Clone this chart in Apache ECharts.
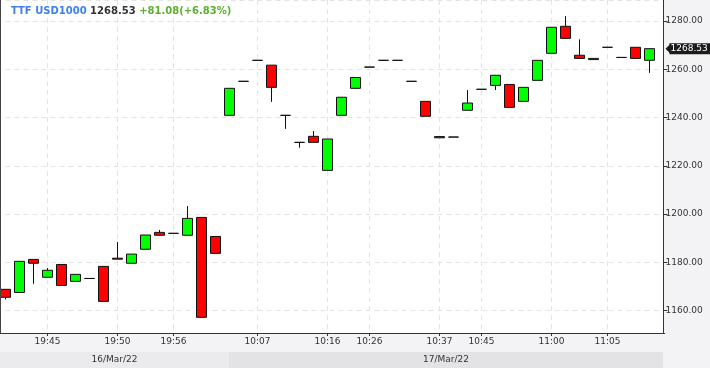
<!DOCTYPE html>
<html><head><meta charset="utf-8">
<script src="https://cdn.jsdelivr.net/npm/echarts@6/dist/echarts.min.js"></script>
<style>html,body{margin:0;padding:0;background:#f3f3f5;}#c{width:710px;height:368px;}</style>
</head><body><div id="c"></div>
<script>
// ---- data ----
const opens  = [1168.8,1167.5,1181.2,1173.8,1179.1,1172.1,1173.3,1178.3,1181.7,1179.6,1185.4,1192.4,1192.0,1191.2,1198.6,1190.7,
                1240.9,1255.0,1263.7,1261.7,1240.9,1229.7,1232.2,1218.1,1240.9,1252.1,1260.9,1263.7,1263.7,1255.0,1246.7,1232.1,
                1231.9,1243.0,1251.7,1253.3,1253.7,1246.7,1255.4,1266.6,1277.8,1265.8,1264.0,1269.1,1264.9,1269.1,1263.7];
const closes = [1165.5,1180.4,1179.6,1176.7,1170.4,1175.0,1173.3,1163.8,1181.3,1183.4,1191.3,1191.2,1192.0,1198.2,1157.2,1183.7,
                1252.1,1255.0,1263.7,1252.5,1240.9,1229.7,1229.7,1231.1,1248.4,1256.6,1260.9,1263.7,1263.7,1255.0,1240.5,1231.6,
                1231.9,1246.0,1251.7,1257.5,1244.2,1252.5,1263.7,1277.4,1272.8,1264.5,1264.5,1269.1,1264.9,1264.5,1268.53];
const lows   = [1164.6,1167.5,1171.1,1173.8,1170.4,1172.1,1173.3,1163.8,1181.3,1179.6,1185.4,1191.2,1192.0,1191.2,1157.2,1183.7,
                1240.9,1255.0,1263.7,1246.5,1235.3,1227.5,1229.7,1218.1,1240.9,1252.1,1260.9,1263.7,1263.7,1255.0,1240.5,1231.6,
                1231.9,1243.0,1251.7,1251.4,1244.2,1246.7,1255.4,1266.6,1272.8,1264.5,1264.0,1269.1,1264.9,1264.5,1258.5];
const highs  = [1168.8,1180.4,1181.2,1177.6,1179.1,1175.0,1173.3,1178.3,1188.4,1183.4,1191.3,1193.4,1192.0,1203.3,1198.6,1190.7,
                1252.1,1255.0,1263.7,1261.7,1240.9,1229.7,1234.4,1231.1,1248.4,1256.6,1260.9,1263.7,1263.7,1255.0,1246.7,1232.1,
                1231.9,1251.4,1251.7,1257.5,1253.7,1252.5,1263.7,1277.4,1282.0,1272.4,1264.5,1269.1,1264.9,1269.1,1268.53];
const tickIndex  = [3, 8, 12, 18, 23, 26, 31, 34, 39, 43];
const tickLabels = ['19:45','19:50','19:56','10:07','10:16','10:26','10:37','10:45','11:00','11:05'];
const dateLabels = ['16/Mar/22', '17/Mar/22'];
const dateStartIndex = [0, 16];
const instrument = 'TTF USD1000';
const lastPrice = 1268.53;
const changeAbs = 81.08;
const changePct = 6.83;

// ---- build ----
const slotCount = opens.length + 1;
const categories = [];
for (let i = 0; i < slotCount; i++) {
  const k = tickIndex.indexOf(i);
  categories.push(k >= 0 ? tickLabels[k] : ' ' + i);
}
const ohlc = opens.map((o, i) => [o, closes[i], lows[i], highs[i]]);
const isTick = (i) => tickIndex.indexOf(i) >= 0;
const FONT = 'DejaVu Sans';
const dash = { color: '#e4e4e4', width: 1, type: [5, 4] };
const tFont = { fontFamily: 'DejaVu Sans', fontWeight: 'bold', fontSize: 10 };

const chart = echarts.init(document.getElementById('c'), null, { renderer: 'canvas' });
chart.setOption({
  animation: false,
  backgroundColor: '#f3f3f5',
  title: {
    left: 11, top: 6, padding: 0,
    text: '{a|' + instrument + ' }{b|' + lastPrice.toFixed(2) + ' }{c|+' + changeAbs.toFixed(2) + '(+' + changePct.toFixed(2) + '%)}',
    textStyle: {
      rich: {
        a: Object.assign({ color: '#3f80ea' }, tFont),
        b: Object.assign({ color: '#333333' }, tFont),
        c: Object.assign({ color: '#5bb030' }, tFont)
      }
    }
  },
  grid: { left: 5.5, right: 46.5, top: 0, bottom: 35, containLabel: false },
  xAxis: {
    type: 'category', data: categories, boundaryGap: false,
    axisLine: { show: false },
    axisTick: { show: true, interval: (i) => isTick(i), length: 3, lineStyle: { color: '#333' } },
    axisLabel: { interval: (i) => isTick(i), color: '#333', fontSize: 9, fontFamily: FONT, margin: 4,
      formatter: (v) => v.trim().match(/^\d+$/) ? '' : v },
    splitLine: { show: true, interval: (i) => isTick(i), lineStyle: dash }
  },
  yAxis: {
    type: 'value', position: 'right', scale: true,
    min: 1150.7, max: 1288.7, splitNumber: 7,
    axisLine: { show: true, lineStyle: { color: '#333', width: 1 } },
    axisTick: { show: true, length: 4, lineStyle: { color: '#333' } },
    axisLabel: { color: '#333', fontSize: 9, fontFamily: FONT, margin: 2, showMinLabel: false, showMaxLabel: false,
      formatter: (v) => v.toFixed(2) },
    splitLine: { show: true, lineStyle: dash }
  },
  series: [{
    type: 'candlestick',
    data: ohlc,
    clip: false,
    barWidth: 11.3,
    itemStyle: {
      color: '#00ff00', color0: '#ff0000',
      borderColor: '#111', borderColor0: '#111', borderColorDoji: '#111',
      borderWidth: 1
    },
    markPoint: {
      symbol: 'path://M0,5 L5,0 L5,10 Z',
      symbolSize: [5, 10],
      symbolOffset: [4.5, 0],
      itemStyle: { color: '#1c1c1c' },
      label: {
        show: true, position: 'right', distance: -1,
        formatter: () => lastPrice.toFixed(2),
        color: '#fff', fontSize: 9, fontFamily: FONT,
        backgroundColor: '#1c1c1c', padding: [1, 4, 1, 1]
      },
      data: [{ coord: [slotCount - 1, lastPrice] }]
    }
  }]
});

// backgrounds, frame and date bands tied to the axis
const xAt = (i) => chart.convertToPixel({ xAxisIndex: 0 }, i);
const gridRight = xAt(slotCount - 1);
const yBottom = chart.convertToPixel({ yAxisIndex: 0 }, 1150.7);
const bandEdges = [0, Math.floor(xAt(dateStartIndex[1])), Math.floor(gridRight)];
const bandColors = ['#ebebed', '#e3e3e5'];
const g = [
  { type: 'rect', z: -10, shape: { x: 0, y: 0, width: gridRight, height: yBottom }, style: { fill: '#ffffff' } },
  { type: 'line', z: 10, shape: { x1: 0, y1: Math.round(yBottom) + 0.5, x2: Math.round(gridRight) + 1, y2: Math.round(yBottom) + 0.5 }, style: { stroke: '#333', lineWidth: 1 } },
  { type: 'line', z: 10, shape: { x1: 0.5, y1: 0, x2: 0.5, y2: yBottom }, style: { stroke: '#444', lineWidth: 1 } }
];
for (let k = 0; k < dateLabels.length; k++) {
  g.push({ type: 'rect', z: -5, shape: { x: bandEdges[k], y: 352, width: bandEdges[k + 1] - bandEdges[k], height: 16 }, style: { fill: bandColors[k] } });
  g.push({ type: 'text', z: 5, style: { x: (bandEdges[k] + bandEdges[k + 1]) / 2, y: 360, text: dateLabels[k], fill: '#333',
    font: '9px "DejaVu Sans"', align: 'center', verticalAlign: 'middle' } });
}
chart.setOption({ graphic: g });
</script></body></html>
